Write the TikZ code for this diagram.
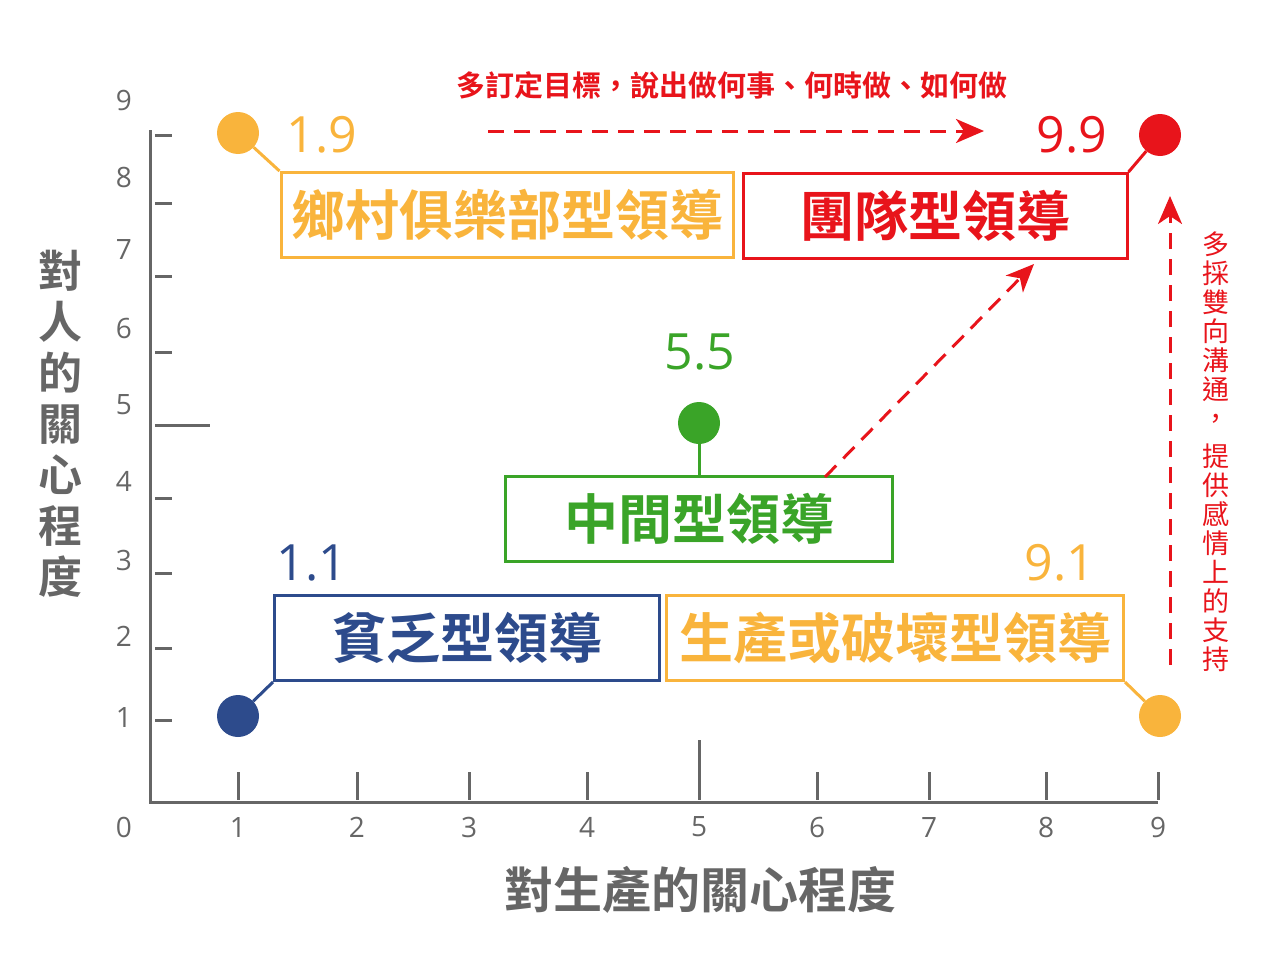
\documentclass[tikz,border=0pt]{standalone}
\usepackage{fontspec}
\newfontfamily\cjk{Noto Sans CJK TC}
\newfontfamily\cjkb{Noto Sans CJK TC Bold}
\setmainfont{Open Sans}
\usetikzlibrary{arrows.meta}
\definecolor{cor}{HTML}{F9B43C}
\definecolor{cre}{HTML}{E8141B}
\definecolor{cgr}{HTML}{3AA428}
\definecolor{cbl}{HTML}{2D4B8C}
\definecolor{cgy}{HTML}{666666}
\begin{document}
\begin{tikzpicture}[x=1pt,y=-1pt,
  ax/.style={cgy,line width=3pt},
  num/.style={cgy,font=\fontsize{28}{30}\selectfont},
  lbox/.style={draw,line width=3pt,minimum height=85pt,font=\cjkb\fontsize{54}{56}\selectfont,inner sep=0pt},
  dot/.style={circle,fill,minimum size=42pt,inner sep=0pt},
  val/.style={font=\fontsize{50}{52}\selectfont},
  darr/.style={cre,line width=3pt,dash pattern=on 16pt off 10pt,-{Stealth[length=28pt,width=24pt,inset=8pt]}}]
\useasboundingbox (0,0) rectangle (1280,953);
\draw[ax] (150,130) -- (150,802) -- (1158,802);
\foreach \y in {135,203,276,352,498,573,648,720} \draw[ax] (155,\y) -- (172,\y);
\draw[ax] (155,425) -- (210,425);
\foreach \x in {238,357,469,587,817,929,1046,1158} \draw[ax] (\x,772) -- (\x,800);
\draw[ax] (699,740) -- (699,800);
\foreach \t/\y in {9/100,8/177,7/250,6/328,5/405,4/481,3/560,2/636,1/717,0/827} \node[num] at (124,\y) {\t};
\foreach \t/\x in {1/238,2/357,3/469,4/587,5/699,6/817,7/929,8/1046,9/1158} \node[num] at (\x,827) {\t};
\node[cgy,font=\cjkb\fontsize{44}{51}\selectfont,align=center] (yt) at (60,424) {對\\人\\的\\關\\心\\程\\度};
\node[cgy,font=\cjkb\fontsize{49}{52}\selectfont] (xt) at (700,890) {對生產的關心程度};
% boxes
\node[lbox,cor,minimum width=452pt] (b1) at (507,215) {鄉村俱樂部型領導};
\node[lbox,cre,minimum width=384pt] (b2) at (935,216) {團隊型領導};
\node[lbox,cgr,minimum width=387pt] (b3) at (699,519) {中間型領導};
\node[lbox,cbl,minimum width=385pt] (b4) at (467,638) {貧乏型領導};
\node[lbox,cor,minimum width=457pt] (b5) at (895,638) {生產或破壞型領導};
% dots
\node[dot,cor] (d1) at (238,133) {};
\node[dot,cre] (d2) at (1160,135) {};
\node[dot,cgr] (d3) at (699,423) {};
\node[dot,cbl] (d4) at (238,716) {};
\node[dot,cor] (d5) at (1160,716) {};
\draw[cor,line width=3pt] (d1) -- (b1.north west);
\draw[cre,line width=3pt] (d2) -- (b2.north east);
\draw[cgr,line width=3pt] (d3) -- (b3.north);
\draw[cbl,line width=3pt] (d4) -- (b4.south west);
\draw[cor,line width=3pt] (d5) -- (b5.south east);
\node[val,cor] at (322,135) {1.9};
\node[val,cre] at (1072,135) {9.9};
\node[val,cgr] at (700,352) {5.5};
\node[val,cbl] at (312,563) {1.1};
\node[val,cor] at (1060,563) {9.1};
% arrows
\coordinate (h1) at (488,131); \coordinate (h2) at (984,131);
\draw[darr] (h1) -- (h2);
\coordinate (g1) at (825,477); \coordinate (g2) at (1034,264);
\draw[darr] (g1) -- (g2);
\coordinate (v1) at (1170,665); \coordinate (v2) at (1170,196);
\draw[darr] (v1) -- (v2);
\node[cre,font=\cjkb\fontsize{29}{31}\selectfont] at (732,85) {多訂定目標，說出做何事、何時做、如何做};
\node[cre,font=\cjk\fontsize{27}{29}\selectfont,align=center,anchor=north] at (1216,228) {多\\採\\雙\\向\\溝\\通\\，};
\node[cre,font=\cjk\fontsize{27}{29}\selectfont,align=center,anchor=north] at (1216,440) {提\\供\\感\\情\\上\\的\\支\\持};
\end{tikzpicture}
\end{document}
